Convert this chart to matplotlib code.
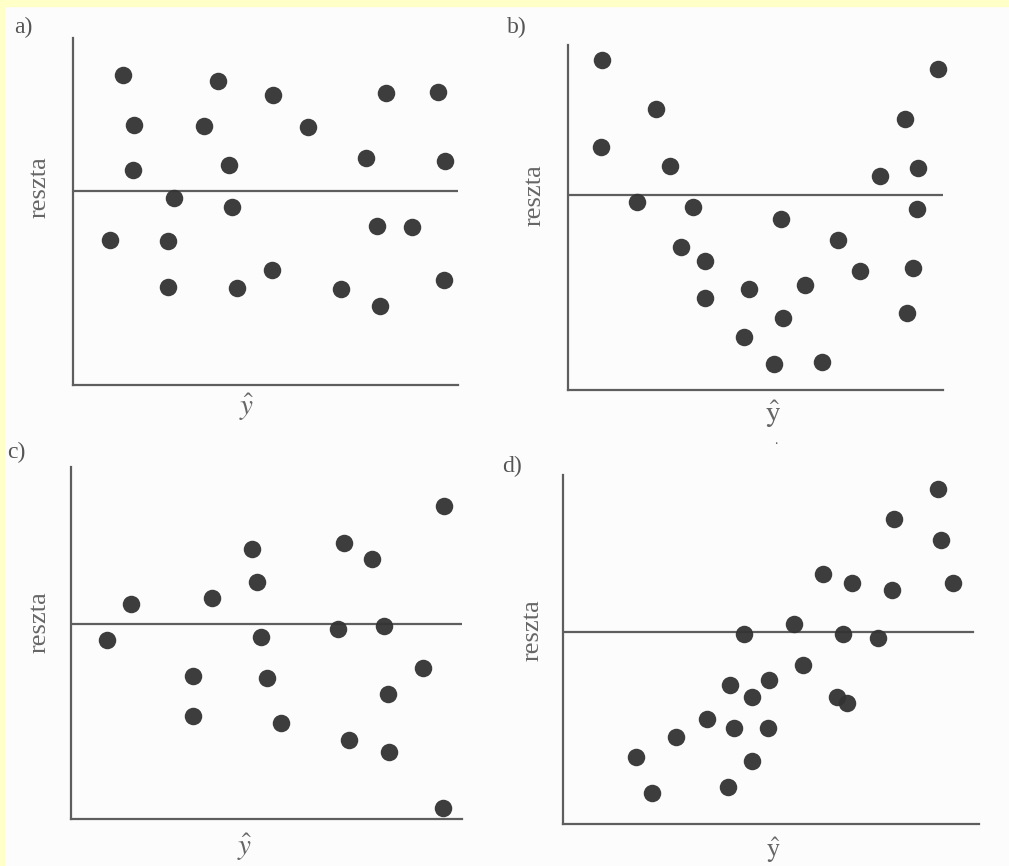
import matplotlib
matplotlib.use("Agg")
import matplotlib.pyplot as plt
from matplotlib.patches import Rectangle

plt.rcParams['font.family'] = ['Liberation Serif', 'DejaVu Serif']
plt.rcParams['mathtext.fontset'] = 'stix'

# ---- data (x = fitted value, y = residual) ----
a_x = [50, 145, 200, 313, 365, 61, 131, 235, 293, 372, 60, 156, 101, 159,
       37, 95, 304, 339, 199, 95, 164, 268, 307, 371]
a_y = [116, 110, 96, 98, 99, 66, 65, 64, 33, 30, 21, 26, -7, -16,
       -49, -50, -35, -36, -79, -96, -97, -98, -115, -89]

b_x = [34, 370, 88, 337, 33, 102, 312, 350, 69, 125, 213, 349, 113, 270,
       137, 292, 345, 181, 237, 137, 339, 215, 176, 206, 254]
b_y = [135, 126, 86, 76, 48, 29, 19, 27, -7, -12, -24, -14, -52, -45,
       -66, -76, -73, -94, -90, -103, -118, -123, -142, -169, -167]

c_x = [373, 181, 273, 301, 186, 60, 141, 36, 190, 267, 313, 122, 196, 352,
       317, 122, 210, 278, 318, 372]
c_y = [118, 75, 81, 65, 42, 20, 26, -16, -13, -5, -2, -52, -54, -44,
       -70, -92, -99, -116, -128, -184]

d_x = [375, 331, 378, 260, 289, 329, 390, 231, 181, 280, 315, 240, 167, 206,
       189, 274, 284, 144, 171, 205, 113, 73, 189, 165, 89]
d_y = [143, 113, 92, 58, 49, 42, 49, 8, -2, -2, -6, -33, -53, -48,
       -65, -65, -71, -87, -96, -96, -105, -125, -129, -155, -161]

panel_labels = ['a)', 'b)', 'c)', 'd)']
ylabel = 'reszta'
xlabels = [r'$\hat{y}$', r'$\hat{\mathrm{y}}$', r'$\hat{y}$', r'$\hat{\mathrm{y}}$']

W, H = 1009, 866
fig = plt.figure(figsize=(W / 100, H / 100), dpi=100)
fig.patch.set_facecolor('#fcfcfc')

# pale yellow scan frame
fig.add_artist(Rectangle((0, 1 - 6 / H), 1, 6 / H, transform=fig.transFigure,
                         color='#ffffc8', zorder=0))
fig.add_artist(Rectangle((0, 0), 4 / W, 1, transform=fig.transFigure,
                         color='#ffffc8', zorder=0))

# panel geometry in pixels: left, right, top, bottom, zero-line y, zero-line right end
geoms = [
    (73, 458, 38, 385, 190.5, 458),
    (568, 943, 45, 390, 195, 943),
    (71, 462, 467, 819, 624, 463),
    (563, 979, 475, 824, 632, 973),
]
data = [(a_x, a_y), (b_x, b_y), (c_x, c_y), (d_x, d_y)]

label_pos = [(14, 27), (507, 27), (7, 452), (502, 466)]
ylab_pos = [(40, 187), (535, 195), (40, 622), (533, 630)]
xlab_pos = [(247, 392), (773, 399), (245, 832), (773, 835)]
xlab_size = [21, 21, 21, 19]

line_col = '#5e5e5e'
dot_col = '#333333'

for i, ((l, r, t, b, z, zr), (xs, ys)) in enumerate(zip(geoms, data)):
    ax = fig.add_axes([l / W, 1 - b / H, (r - l) / W, (b - t) / H])
    ax.set_facecolor('none')
    ax.set_xlim(0, r - l)
    ax.set_ylim(z - b, z - t)
    for s in ['top', 'right']:
        ax.spines[s].set_visible(False)
    for s in ['left', 'bottom']:
        ax.spines[s].set_color(line_col)
        ax.spines[s].set_linewidth(1.6)
    ax.set_xticks([])
    ax.set_yticks([])
    ax.axhline(0, xmin=0, xmax=(zr - l) / (r - l), color=line_col, lw=1.6)
    ax.plot(xs, ys, 'o', color=dot_col, markersize=12.6, markeredgewidth=0,
            alpha=0.95, clip_on=False)

    fx, fy = label_pos[i]
    fig.text(fx / W, 1 - fy / H, panel_labels[i], fontsize=17, color='#555555',
             ha='left', va='center')
    fx, fy = ylab_pos[i]
    fig.text(fx / W, 1 - fy / H, ylabel, fontsize=19, color='#666666',
             rotation=90, ha='center', va='center')
    fx, fy = xlab_pos[i]
    fig.text(fx / W, 1 - fy / H, xlabels[i], fontsize=xlab_size[i], color='#666666',
             ha='center', va='top')

# small speck below panel b's axis label
fig.text(776 / W, 1 - 441 / H, '.', fontsize=10, color='#555555',
         ha='center', va='center')

fig.savefig('out.png', dpi=100, facecolor=fig.get_facecolor())
